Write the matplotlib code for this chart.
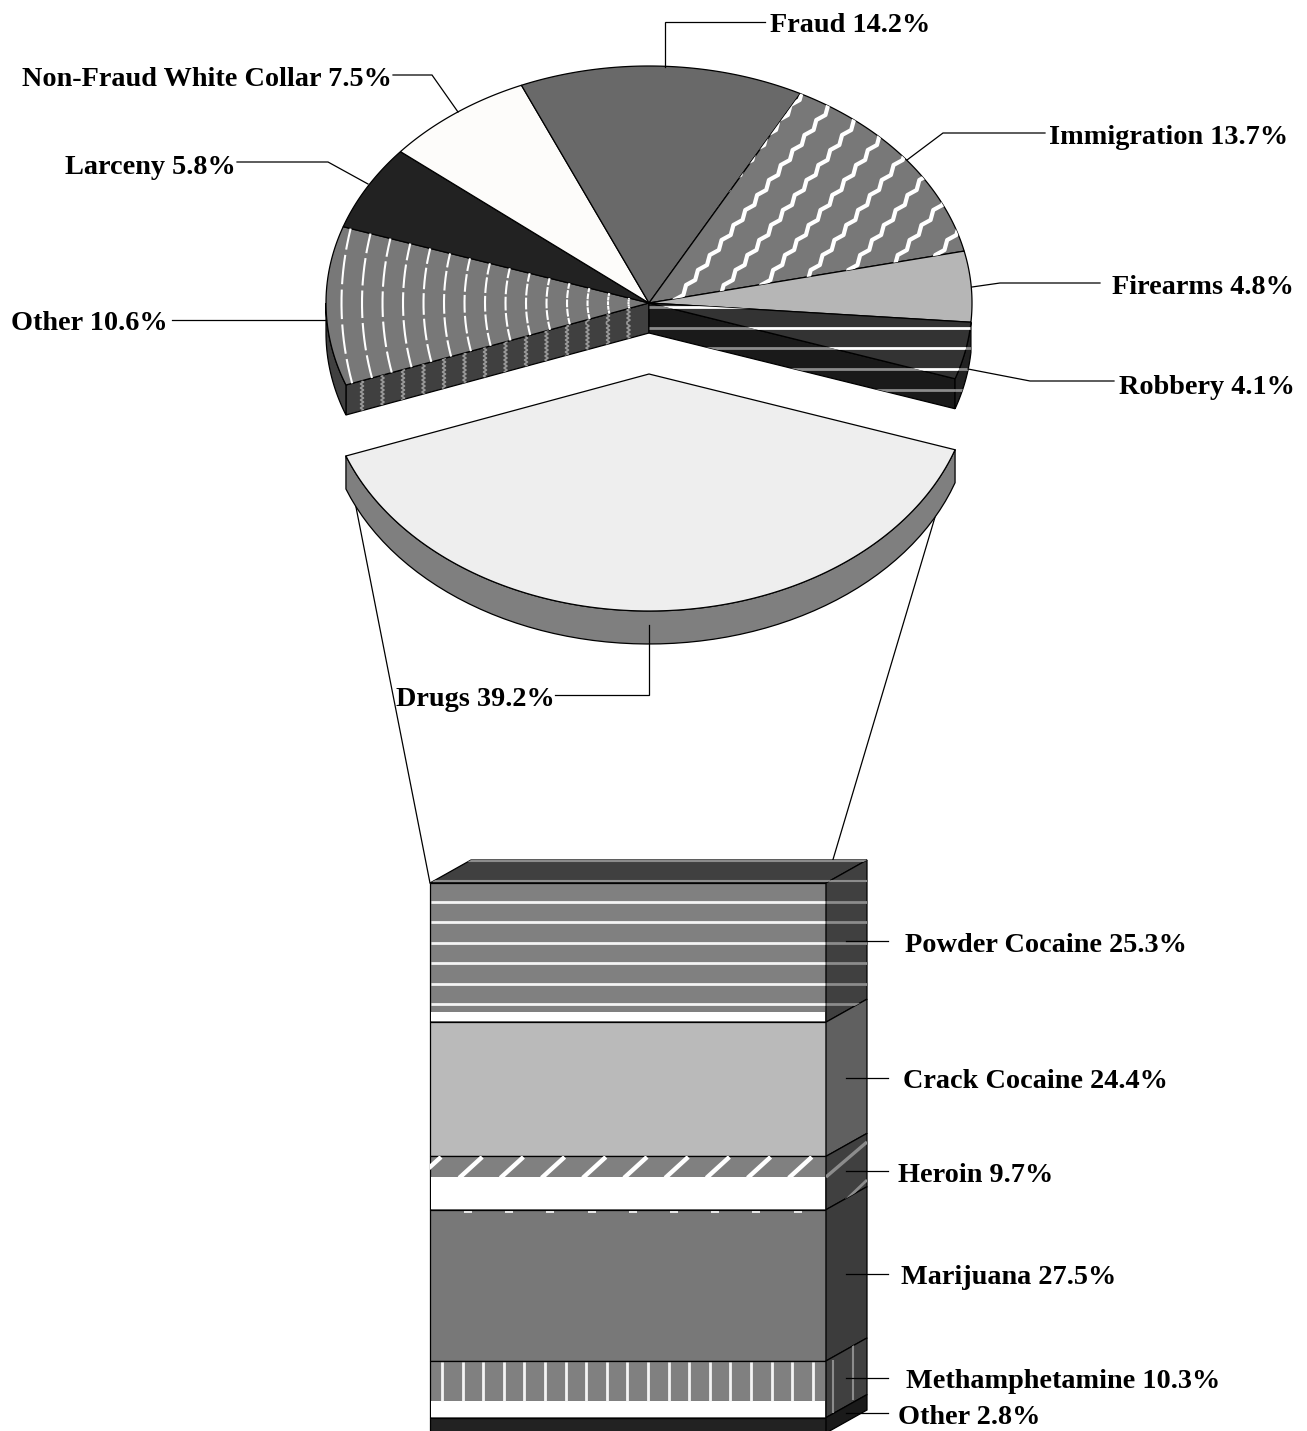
import numpy as np
import matplotlib
matplotlib.use('Agg')
import matplotlib.pyplot as plt

plt.rcParams['font.family'] = ['Liberation Serif', 'DejaVu Serif']

# offense shares, going clockwise from the left edge of the pulled out slice
pie_names  = ['Other', 'Larceny', 'Non-Fraud White Collar', 'Fraud', 'Immigration', 'Firearms', 'Robbery']
pie_shares = [10.6, 5.8, 7.5, 14.2, 13.7, 4.8, 4.1]
pie_colors = ['#787878', '#222222', '#fdfcfa', '#696969', '#787878', '#b6b6b6', '#333333']
drugs_name  = 'Drugs'
drugs_share = 39.2

# drug breakdown, top of the stack first
drug_names  = ['Powder Cocaine', 'Crack Cocaine', 'Heroin', 'Marijuana', 'Methamphetamine', 'Other']
drug_shares = [25.3, 24.4, 9.7, 27.5, 10.3, 2.8]
drug_colors = ['#808080', '#bababa', '#808080', '#787878', '#808080', '#222222']
side_colors = ['#404040', '#606060', '#404040', '#3c3c3c', '#404040', '#1a1a1a']

# label anchors (left x, middle y) in picture pixels
pie_label_xy   = [(11, 324), (65, 167), (22, 80), (770, 26), (1049, 138), (1112, 288), (1119, 387)]
drugs_label_xy = (396, 699)
drug_label_xy  = [(905, 946), (903, 1081), (898, 1175), (901, 1278), (906, 1382), (898, 1418)]

# leader lines
pie_leaders = [[(326, 320), (172, 320)],
               [(368, 184), (328, 162), (237, 162)],
               [(458, 112), (432, 75), (393, 75)],
               [(665, 67), (665, 22), (765, 22)],
               [(907, 160), (943, 133), (1045, 133)],
               [(972, 287), (1000, 283), (1100, 283)],
               [(968, 369), (1030, 381), (1114, 381)]]
drugs_leader = [(649, 625), (649, 695), (555, 695)]
drug_leader_y = [941, 1078, 1171, 1274, 1378, 1413]

# geometry of the drawing
cx, cy = 649, 303
rx, ry = 323, 237
depth  = 30
drugs_dy, drugs_depth = 71, 33
stack_left, stack_right, stack_top = 430, 826, 883
stack_scale = 5.5  # px per percent
skew_x, skew_y = 41, 23
rotate = 0.8  # the cut is turned a little from straight down

fig = plt.figure(figsize=(13.07, 14.31), dpi=100)
ax = fig.add_axes([0, 0, 1, 1])
ax.set_xlim(0, 1307)
ax.set_ylim(1431, 0)
ax.axis('off')

line_k = dict(color='black', lw=0.9, solid_joinstyle='miter')


def ell(deg, yc=cy):
    t = np.radians(deg)
    return cx + rx*np.cos(t), yc - ry*np.sin(t)


def wedge_pts(a0, a1, yc=cy):
    x, y = ell(np.linspace(a0, a1, 120), yc)
    return np.r_[cx, x], np.r_[yc, y]


def wall_pts(a0, a1, yc=cy, d=depth):
    x, y = ell(np.linspace(a0, a1, 60), yc)
    return np.r_[x, x[::-1]], np.r_[y, y[::-1] + d]


def clipped(x, y, clip, color, lw, z=3):
    l, = ax.plot(x, y, color=color, lw=lw, zorder=z, solid_capstyle='butt')
    l.set_clip_path(clip)
    return l


def poly(x, y, color, z=2):
    return ax.fill(x, y, facecolor=color, edgecolor='black', lw=0.9, zorder=z, joinstyle='miter')[0]


# the drugs slice is centred on the bottom of the pie
drugs_sweep = drugs_share*3.6
start = 270 - drugs_sweep/2 + rotate
stop  = 270 + drugs_sweep/2 + rotate
yc_d  = cy + drugs_dy

# zoom lines from the slice to the stack sit behind the slice
left_x, left_y = ell(start, yc_d)
right_x, right_y = ell(stop, yc_d)
ax.plot([left_x, stack_left], [left_y, stack_top], zorder=1, **line_k)
ax.plot([right_x, stack_right], [right_y, stack_top], zorder=1, **line_k)

# pulled out slice
poly(*wall_pts(start, stop, yc_d, drugs_depth), '#7f7f7f')
poly(*wedge_pts(start, stop, yc_d), '#eeeeee')

# angles of the remaining slices, clockwise; only the two cut edges get the turn
scale = (360 - drugs_sweep)/sum(pie_shares)
edges = 270 - drugs_sweep/2 - np.cumsum([0] + [s*scale for s in pie_shares])
edges[0] = start
edges[-1] = stop - 360
ang = dict(zip(pie_names, zip(edges[:-1], edges[1:])))

# walls of the cut: Other on the left, Robbery on the right
wx, wy = ell(start)
cut_o = poly([cx, wx, wx, cx], [cy, wy, wy + depth, cy + depth], '#404040')
wall_o = poly(*wall_pts(180, start), '#404040')
wx2, wy2 = ell(stop)
cut_r = poly([cx, wx2, wx2, cx], [cy, wy2, wy2 + depth, cy + depth], '#1a1a1a')
wall_r = poly(*wall_pts(stop, ang['Robbery'][0] + 360), '#222222')

# grey marks on the Other cut
for x in np.arange(cx - 20.5*15, cx, 20.5):
    ys = np.arange(300, 420, 2.0)
    xs = x + 1.5*np.sign(np.sin(ys*1.6))
    clipped(xs, ys, cut_o, '#9a9a9a', 1.2)

# tops of the slices
tops = {}
for name, color in zip(pie_names, pie_colors):
    a, b = ang[name]
    tops[name] = poly(*wedge_pts(b, a), color, z=2.5)

# Other: broken arcs, these rings are round and not squashed like the pie
for r in np.arange(20.5, 320, 20.5):
    t = np.arange(150, 215, 0.1)
    x = cx - r*np.cos(np.radians(t - 180))
    y = cy - r*np.sin(np.radians(180 - t))
    gaps = ((t - 183) % 6.5) < 0.9
    x = np.where(gaps, np.nan, x)
    clipped(x, y, tops['Other'], 'white', 1.5)

# Immigration: jagged diagonal stripes
slope = 1.267
for c in np.arange(876, 1145, 37.6):
    ys = np.arange(60, 320, 5.0)
    xs = c - ys/slope + 2.6*((np.arange(len(ys)) % 3) - 1)
    clipped(xs, ys, tops['Immigration'], 'white', 3.0)

# Robbery: level lines, white on the top and grey on the walls
for y in [307, 328, 348, 369, 390, 410]:
    clipped([cx - 20, 990], [y, y], tops['Robbery'], 'white', 2.0)
    clipped([cx, 990], [y, y], cut_r, '#8c8c8c', 2.0)
    clipped([cx, 990], [y, y], wall_r, '#8c8c8c', 2.0)

# stack: top lid, then one front and one side per share
lid = poly([stack_left, stack_left + skew_x, stack_right + skew_x, stack_right],
           [stack_top, stack_top - skew_y, stack_top - skew_y, stack_top], '#404040')
clipped([stack_left, stack_right + skew_x], [861, 861], lid, '#8c8c8c', 1.5)
clipped([stack_left, stack_right + skew_x], [881, 881], lid, '#8c8c8c', 1.5)

seg_edges = stack_top + np.cumsum([0] + [s*stack_scale for s in drug_shares])
fronts, sides = [], []
for i in range(len(drug_names)):
    y0, y1 = seg_edges[i], seg_edges[i+1]
    fc = drug_colors[i]
    front = poly([stack_left, stack_right, stack_right, stack_left], [y0, y0, y1, y1], fc)
    side = poly([stack_right, stack_right + skew_x, stack_right + skew_x, stack_right],
                [y0, y0 - skew_y, y1 - skew_y, y1], side_colors[i])
    fronts.append(front)
    sides.append(side)


def white_band(i, y0):
    # pattern tile runs out before the bottom of the segment
    y1 = seg_edges[i+1]
    ax.fill([stack_left + 1, stack_right - 1, stack_right - 1, stack_left + 1], [y0, y0, y1 - 1, y1 - 1],
            color='white', lw=0, zorder=3)


# Powder Cocaine
white_band(0, 1012)
for y in [902, 922, 943, 963, 984, 1004]:
    ax.plot([stack_left + 1, stack_right - 1], [y, y], color='#f4f4f4', lw=2.0, zorder=3, solid_capstyle='butt')
    clipped([stack_right, stack_right + skew_x], [y, y], sides[0], '#8c8c8c', 2.0)
clipped([stack_right, stack_right + skew_x], [881, 881], sides[0], '#8c8c8c', 1.5)

# Heroin
white_band(2, 1177)
for x in np.arange(441, 826, 41.2):
    clipped([x - 23, x], [1178, 1157], fronts[2], 'white', 3.2)
    if x + 41.2 < 826:
        ax.plot([x + 23, x + 31], [1211.5, 1211.5], color='white', lw=1.2, zorder=3, solid_capstyle='butt')
clipped([stack_right, stack_right + skew_x], [1177, 1142], sides[2], '#8c8c8c', 2.4)
clipped([stack_right + 20, stack_right + skew_x], [1200, 1180], sides[2], '#8c8c8c', 2.0)

# Methamphetamine
white_band(4, 1401)
for x in np.arange(442, 826, 20.6):
    clipped([x, x], [1362, 1401], fronts[4], '#f4f4f4', 2.0)
clipped([833, 833], [1360, 1413], sides[4], '#8c8c8c', 1.5)
clipped([853, 853], [1345, 1400], sides[4], '#8c8c8c', 1.5)

# leaders
for pts in pie_leaders + [drugs_leader]:
    xs, ys = zip(*pts)
    ax.plot(xs, ys, zorder=4, **line_k)
for y in drug_leader_y:
    ax.plot([846, 888], [y, y], zorder=4, **line_k)

# labels
label_k = dict(fontsize=20.3, fontweight='bold', ha='left', va='center', color='black', zorder=5)
for name, share, (x, y) in zip(pie_names, pie_shares, pie_label_xy):
    ax.text(x, y, f'{name} {share}%', **label_k)
ax.text(*drugs_label_xy, f'{drugs_name} {drugs_share}%', **label_k)
for name, share, (x, y) in zip(drug_names, drug_shares, drug_label_xy):
    ax.text(x, y, f'{name} {share}%', **label_k)

fig.savefig('out.png', dpi=100)
